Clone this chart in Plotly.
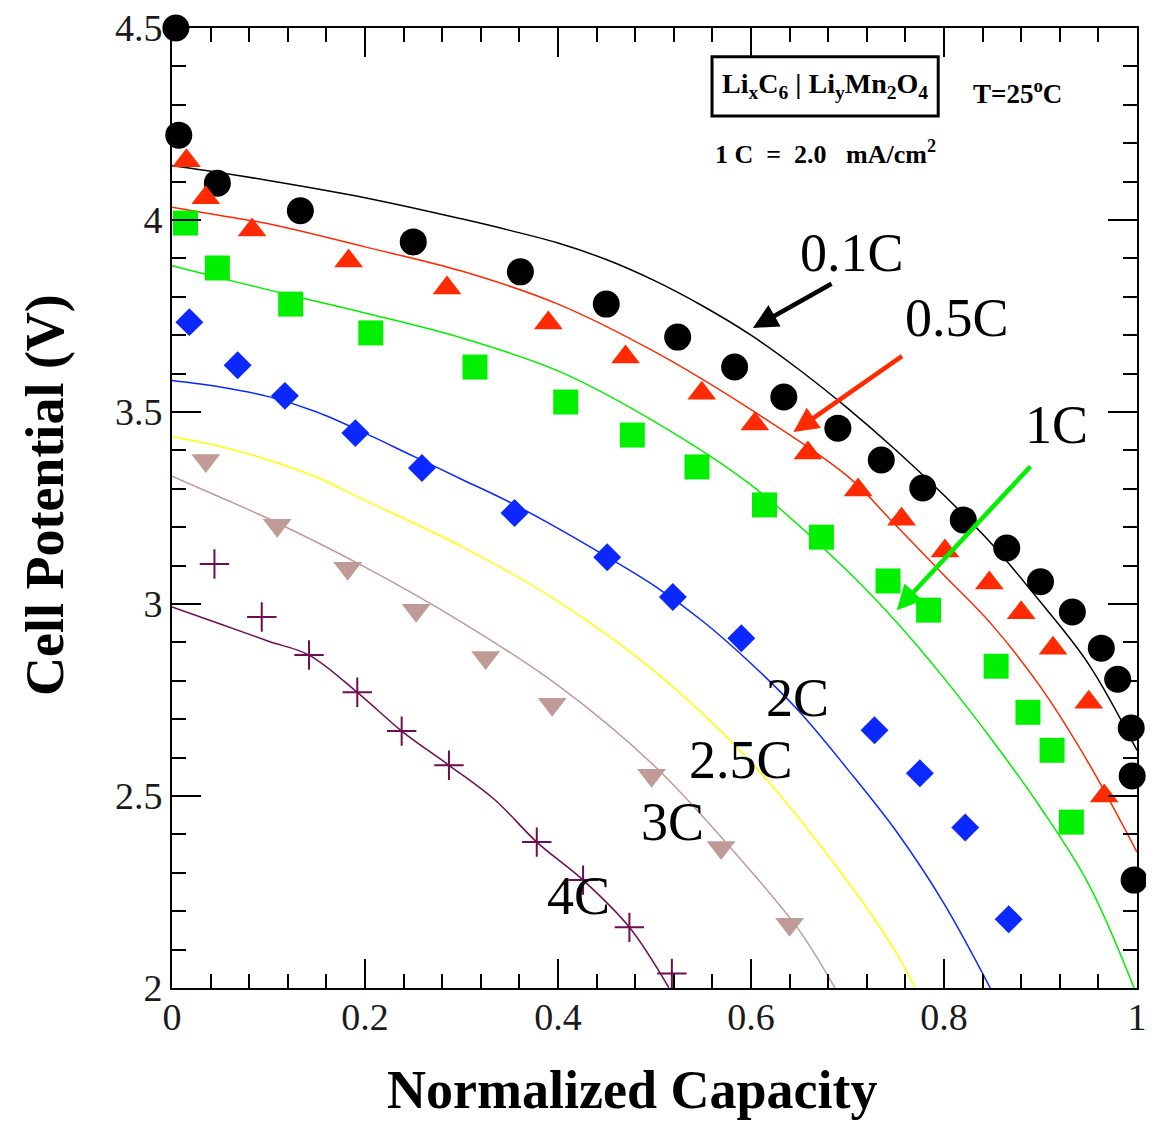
import plotly.graph_objects as go

# ---------------- data ----------------
# model curves (lines)
fit_01C_x = [0, 0.05, 0.1, 0.2, 0.3, 0.35, 0.4, 0.45, 0.5, 0.55, 0.6, 0.65, 0.7, 0.75, 0.8, 0.85, 0.9, 0.95, 1.0]
fit_01C_y = [4.141, 4.123, 4.103, 4.058, 4.003, 3.973, 3.940, 3.897, 3.842, 3.776, 3.700, 3.610, 3.510, 3.401, 3.283, 3.155, 3.005, 2.843, 2.619]

fit_05C_x = [0, 0.05, 0.1, 0.2, 0.3, 0.4, 0.5, 0.6, 0.7, 0.75, 0.8, 0.85, 0.9, 0.95, 1.0]
fit_05C_y = [4.033, 4.012, 3.990, 3.930, 3.867, 3.781, 3.657, 3.506, 3.333, 3.205, 3.075, 2.945, 2.784, 2.585, 2.354]

fit_1C_x = [0, 0.05, 0.1, 0.2, 0.3, 0.4, 0.5, 0.6, 0.7, 0.75, 0.8, 0.85, 0.9, 0.95, 0.997]
fit_1C_y = [3.881, 3.849, 3.818, 3.758, 3.693, 3.607, 3.475, 3.310, 3.086, 2.955, 2.807, 2.645, 2.470, 2.270, 2.0]

fit_2C_x = [0, 0.05, 0.1, 0.15, 0.2, 0.25, 0.3, 0.35, 0.4, 0.45, 0.5, 0.55, 0.6, 0.65, 0.7, 0.75, 0.8, 0.848]
fit_2C_y = [3.582, 3.565, 3.540, 3.500, 3.445, 3.385, 3.325, 3.265, 3.197, 3.124, 3.047, 2.955, 2.845, 2.720, 2.570, 2.410, 2.220, 2.0]

fit_25C_x = [0, 0.05, 0.1, 0.15, 0.2, 0.3, 0.4, 0.5, 0.6, 0.7, 0.75, 0.77]
fit_25C_y = [3.436, 3.410, 3.375, 3.330, 3.270, 3.150, 3.007, 2.825, 2.588, 2.278, 2.094, 2.0]

fit_3C_x = [0, 0.05, 0.1, 0.2, 0.3, 0.4, 0.5, 0.6, 0.65, 0.687]
fit_3C_y = [3.333, 3.278, 3.222, 3.096, 2.953, 2.788, 2.578, 2.304, 2.150, 2.0]

fit_4C_x = [0, 0.05, 0.1, 0.142, 0.192, 0.238, 0.287, 0.335, 0.378, 0.426, 0.474, 0.515]
fit_4C_y = [2.992, 2.948, 2.903, 2.867, 2.770, 2.669, 2.580, 2.489, 2.380, 2.281, 2.158, 2.0]

# experimental points (markers)
exp_01C_x = [0.004, 0.007, 0.047, 0.133, 0.250, 0.361, 0.450, 0.524, 0.583, 0.634, 0.690,
             0.735, 0.778, 0.820, 0.865, 0.900, 0.933, 0.963, 0.980, 0.994, 0.995, 0.997]
exp_01C_y = [4.500, 4.221, 4.096, 4.024, 3.943, 3.865, 3.781, 3.695, 3.617, 3.539, 3.458,
             3.375, 3.302, 3.219, 3.146, 3.058, 2.979, 2.885, 2.804, 2.677, 2.552, 2.281]

exp_05C_x = [0.015, 0.035, 0.083, 0.183, 0.285, 0.390, 0.470, 0.549, 0.604, 0.659, 0.711,
             0.756, 0.801, 0.847, 0.880, 0.913, 0.950, 0.966]
exp_05C_y = [4.154, 4.058, 3.974, 3.893, 3.823, 3.732, 3.643, 3.549, 3.469, 3.393, 3.297,
             3.221, 3.138, 3.055, 2.977, 2.885, 2.744, 2.500]

exp_1C_x = [0.014, 0.047, 0.123, 0.206, 0.314, 0.408, 0.477, 0.544, 0.614, 0.673, 0.742,
            0.784, 0.854, 0.887, 0.912, 0.932]
exp_1C_y = [3.992, 3.875, 3.781, 3.706, 3.617, 3.526, 3.440, 3.357, 3.258, 3.174, 3.060,
            2.984, 2.838, 2.718, 2.619, 2.432]

exp_2C_x = [0.018, 0.068, 0.117, 0.190, 0.259, 0.355, 0.451, 0.519, 0.590, 0.728, 0.775, 0.822, 0.867]
exp_2C_y = [3.734, 3.622, 3.542, 3.445, 3.354, 3.237, 3.122, 3.018, 2.911, 2.671, 2.559, 2.418, 2.179]

exp_3C_x = [0.035, 0.109, 0.182, 0.253, 0.325, 0.394, 0.497, 0.569, 0.640]
exp_3C_y = [3.374, 3.205, 3.093, 2.984, 2.861, 2.739, 2.554, 2.366, 2.166]

exp_4C_x = [0.044, 0.093, 0.142, 0.192, 0.238, 0.287, 0.378, 0.426, 0.474, 0.518]
exp_4C_y = [3.104, 2.966, 2.867, 2.770, 2.669, 2.580, 2.380, 2.281, 2.158, 2.038]

x_tickvals = [0, 0.2, 0.4, 0.6, 0.8, 1.0]
x_ticktext = ["0", "0.2", "0.4", "0.6", "0.8", "1"]
y_tickvals = [2, 2.5, 3, 3.5, 4, 4.5]
y_ticktext = ["2", "2.5", "3", "3.5", "4", "4.5"]

# ---------------- styles ----------------
BLACK = "#000000"
RED = "#ff2a00"
GREEN = "#00f000"
BLUE = "#0a28ff"
YELLOW = "#ffff00"
TAN = "#c09a96"
PURPLE = "#6e0e50"
FONT = "Liberation Serif"

fig = go.Figure()

curves = [
    (fit_01C_x, fit_01C_y, BLACK),
    (fit_05C_x, fit_05C_y, RED),
    (fit_1C_x, fit_1C_y, GREEN),
    (fit_2C_x, fit_2C_y, BLUE),
    (fit_25C_x, fit_25C_y, YELLOW),
    (fit_3C_x, fit_3C_y, TAN),
    (fit_4C_x, fit_4C_y, PURPLE),
]
for cx, cy, col in curves:
    fig.add_trace(go.Scatter(x=cx, y=cy, mode="lines",
                             line=dict(color=col, width=1.5, shape="spline", smoothing=1.0),
                             hoverinfo="skip", showlegend=False))

markers = [
    (exp_01C_x, exp_01C_y, BLACK, "circle", 27),
    (exp_05C_x, exp_05C_y, RED, "triangle-up", 25),
    (exp_1C_x, exp_1C_y, GREEN, "square", 25),
    (exp_2C_x, exp_2C_y, BLUE, "diamond", 21.5),
    (exp_3C_x, exp_3C_y, TAN, "triangle-down", 25),
]
for mx, my, col, sym, sz in markers:
    fig.add_trace(go.Scatter(x=mx, y=my, mode="markers", cliponaxis=False,
                             marker=dict(symbol=sym, size=sz, color=col, line=dict(width=0)),
                             showlegend=False))
fig.add_trace(go.Scatter(x=exp_4C_x, y=exp_4C_y, mode="markers", cliponaxis=False,
                         marker=dict(symbol="cross-thin", size=21, color=PURPLE,
                                     line=dict(width=2, color=PURPLE)),
                         showlegend=False))

# rate labels
labels = [
    ("0.1C", 0.705, 3.914),
    ("0.5C", 0.813, 3.745),
    ("1C", 0.917, 3.466),
    ("2C", 0.648, 2.755),
    ("2.5C", 0.590, 2.593),
    ("3C", 0.519, 2.432),
    ("4C", 0.421, 2.239),
]
for txt, lx, ly in labels:
    fig.add_annotation(x=lx, y=ly, xref="x", yref="y", text=txt, showarrow=False,
                       font=dict(family=FONT, size=54, color="black"),
                       xanchor="center", yanchor="middle")

# arrows (tip, tail)
arrows = [
    (0.602, 3.719, 0.685, 3.836, BLACK),
    (0.644, 3.448, 0.758, 3.648, RED),
    (0.751, 2.984, 0.891, 3.362, GREEN),
]
for tx, ty, ax_, ay_, col in arrows:
    fig.add_annotation(x=tx, y=ty, ax=ax_, ay=ay_, xref="x", yref="y", axref="x", ayref="y",
                       text="", showarrow=True, arrowhead=2, arrowsize=1.1, arrowwidth=4.5,
                       arrowcolor=col, standoff=0, startstandoff=0)

# info box and texts
fig.add_shape(type="rect", xref="x", yref="y", x0=0.5596, x1=0.794, y0=4.271, y1=4.425,
              line=dict(color="black", width=3), fillcolor="rgba(0,0,0,0)", layer="above")
fig.add_annotation(x=0.677, y=4.349, xref="x", yref="y",
                   text="<b>Li<sub>x</sub>C<sub>6</sub> | Li<sub>y</sub>Mn<sub>2</sub>O<sub>4</sub></b>",
                   showarrow=False, font=dict(family=FONT, size=28, color="black"))
fig.add_annotation(x=0.876, y=4.334, xref="x", yref="y",
                   text="<b>T=25<sup>o</sup>C</b>", showarrow=False,
                   font=dict(family=FONT, size=27, color="black"))
fig.add_annotation(x=0.677, y=4.177, xref="x", yref="y",
                   text="<b>1 C&nbsp; =&nbsp; 2.0&nbsp;&nbsp; mA/cm<sup>2</sup></b>", showarrow=False,
                   font=dict(family=FONT, size=26, color="black"))

# axis titles
fig.add_annotation(x=0.4767, y=-0.10625, xref="paper", yref="paper",
                   text="<b>Normalized Capacity</b>", showarrow=False,
                   font=dict(family=FONT, size=54, color="black"),
                   xanchor="center", yanchor="middle")
fig.add_annotation(x=-0.1316, y=0.5135, xref="paper", yref="paper",
                   text="<b>Cell Potential (V)</b>", showarrow=False, textangle=-90,
                   font=dict(family=FONT, size=54, color="black"),
                   xanchor="center", yanchor="middle")

axis_common = dict(showline=True, linecolor="black", linewidth=2, mirror="ticks",
                   ticks="inside", ticklen=29, tickwidth=2, tickcolor="black",
                   showgrid=False, zeroline=False, automargin=False,
                   ticklabeloverflow="allow",
                   tickfont=dict(family=FONT, size=38, color="#1a1a1a"))
fig.update_xaxes(range=[0, 1], tickvals=x_tickvals, ticktext=x_ticktext,
                 ticklabelstandoff=-6,
                 minor=dict(dtick=0.04, ticks="inside", ticklen=14, tickwidth=2,
                            tickcolor="black", showgrid=False),
                 **axis_common)
fig.update_yaxes(range=[2, 4.5], tickvals=y_tickvals, ticktext=y_ticktext,
                 ticklabelstandoff=0,
                 minor=dict(dtick=0.1, ticks="inside", ticklen=14, tickwidth=2,
                            tickcolor="black", showgrid=False),
                 **axis_common)

# page body has an 8px margin: figure sized so the plot area lands at the reference pixels
fig.update_layout(width=1146, height=1113,
                  margin=dict(l=164, r=17, t=20, b=133, autoexpand=False),
                  paper_bgcolor="white", plot_bgcolor="white",
                  font=dict(family=FONT), showlegend=False)

fig.write_html("out.html")
